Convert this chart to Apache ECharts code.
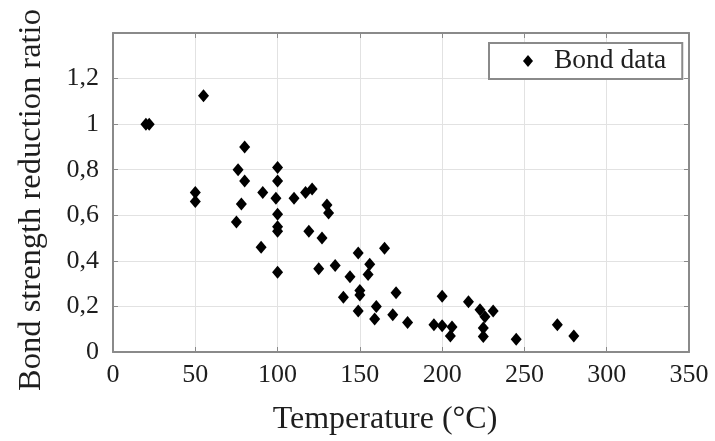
<!DOCTYPE html>
<html>
<head>
<meta charset="utf-8">
<script src="https://cdn.jsdelivr.net/npm/echarts@6/dist/echarts.min.js"></script>
<style>
html,body{margin:0;padding:0;background:#fff;}
#chart{width:715px;height:441px;}
</style>
</head>
<body>
<div id="chart"></div>
<script>
// Data
var temperature = [20, 22, 55, 50, 50, 80, 76, 80, 78, 75, 91, 90, 100, 100, 99, 100, 100, 100, 100,
  110, 117, 121, 130, 131, 119, 127, 125, 135, 140, 144, 149, 150, 150, 149, 156, 155, 165, 160, 159,
  172, 170, 179, 195, 200, 200, 206, 205, 216, 223, 231, 226, 225, 225, 245, 270, 280];
var ratio = [1.00, 1.00, 1.125, 0.70, 0.66, 0.90, 0.80, 0.75, 0.65, 0.57, 0.70, 0.46, 0.81, 0.75, 0.675, 0.605, 0.55, 0.53, 0.35,
  0.675, 0.70, 0.715, 0.645, 0.61, 0.53, 0.50, 0.365, 0.38, 0.24, 0.33, 0.435, 0.27, 0.25, 0.18, 0.385, 0.34, 0.455, 0.20, 0.145,
  0.26, 0.163, 0.13, 0.12, 0.245, 0.115, 0.11, 0.07, 0.22, 0.185, 0.18, 0.155, 0.105, 0.068, 0.056, 0.12, 0.07];
var xTickLabels = ['0', '50', '100', '150', '200', '250', '300', '350'];
var yTickLabels = ['0', '0,2', '0,4', '0,6', '0,8', '1', '1,2', ''];
var seriesName = 'Bond data';
var xTitle = 'Temperature (°C)';
var yTitle = 'Bond strength reduction ratio';

var points = temperature.map(function (t, i) { return [t, ratio[i]]; });
var FONT = 'Liberation Serif';
var TXT = '#1e1e1e';
var BORDER = '#8a8a8a';

var chart = echarts.init(document.getElementById('chart'), null, {renderer: 'canvas'});

function xAxisDef(pos, labels) {
  return {
    type: 'value', position: pos, min: 0, max: 350, interval: 50,
    axisLine: {show: true, onZero: false, lineStyle: {color: BORDER, width: 2}},
    axisTick: {show: true, inside: true, length: 5, lineStyle: {color: BORDER, width: 1}},
    splitLine: {show: labels, lineStyle: {color: '#e2e2e2', width: 1}},
    axisLabel: {
      show: labels, margin: 10, color: TXT, fontFamily: FONT, fontSize: 26,
      formatter: function (v, i) { return xTickLabels[i]; }
    }
  };
}
function yAxisDef(pos, labels) {
  return {
    type: 'value', position: pos, min: 0, max: 1.4, interval: 0.2,
    axisLine: {show: true, onZero: false, lineStyle: {color: BORDER, width: 2}},
    axisTick: {show: true, inside: true, length: 5, lineStyle: {color: BORDER, width: 1}},
    splitLine: {show: labels, lineStyle: {color: '#e2e2e2', width: 1}},
    axisLabel: {
      show: labels, margin: 14, color: TXT, fontFamily: FONT, fontSize: 26,
      formatter: function (v, i) { return yTickLabels[i]; }
    }
  };
}

chart.setOption({
  animation: false,
  backgroundColor: '#fff',
  grid: {left: 113, right: 26, top: 33, bottom: 89, containLabel: false},
  xAxis: [xAxisDef('bottom', true), xAxisDef('top', false)],
  yAxis: [yAxisDef('left', true), yAxisDef('right', false)],
  legend: {
    show: true, left: 489, top: 43,
    padding: [4, 16, 4, 34],
    backgroundColor: '#fff',
    borderColor: BORDER, borderWidth: 2, borderRadius: 0,
    itemWidth: 10, itemHeight: 12,
    itemStyle: {opacity: 1},
    textStyle: {color: TXT, fontFamily: FONT, fontSize: 27.5, padding: [0, 0, 0, 16]},
    data: [{name: seriesName, icon: 'diamond'}]
  },
  graphic: [
    {
      type: 'text', x: 385, y: 420, silent: true,
      style: {text: xTitle, fill: TXT, font: '32px "' + FONT + '"', align: 'center', verticalAlign: 'middle'}
    },
    {
      type: 'text', x: 31, y: 200, rotation: Math.PI / 2, silent: true,
      style: {text: yTitle, fill: TXT, font: '32.5px "' + FONT + '"', align: 'center', verticalAlign: 'middle'}
    }
  ],
  series: [{
    name: seriesName, type: 'scatter', xAxisIndex: 0, yAxisIndex: 0,
    symbol: 'diamond', symbolSize: [11, 13],
    itemStyle: {color: '#000', opacity: 1},
    data: points
  }]
});
</script>
</body>
</html>
